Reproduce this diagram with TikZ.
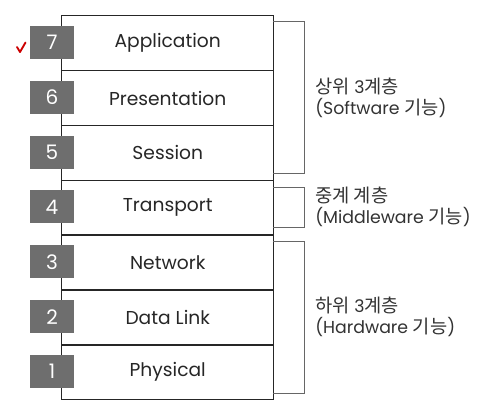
\documentclass[tikz,border=0pt]{standalone}
\usepackage{fontspec}
\setmainfont{Poppins}
\newfontfamily\kr[Scale=1.08]{Noto Sans CJK KR}
\begin{document}
\begin{tikzpicture}[x=0.75pt,y=-0.75pt,
  layer/.style={draw=black!85,line width=1.1pt,minimum width=212*0.75pt,minimum height=54.9*0.75pt,inner sep=0pt,anchor=north west,font=\fontsize{14}{16}\selectfont,text=black!85},
  numbox/.style={fill=black!57,minimum width=44*0.75pt,minimum height=33*0.75pt,inner sep=0pt,text=white,font=\fontsize{15}{16}\selectfont},
  brk/.style={draw=black!60,line width=0.7pt},
  lbl/.style={anchor=west,align=left,font=\fontsize{13}{15.5}\selectfont,text=black!80,inner sep=0pt}]
\useasboundingbox (0,0) rectangle (488,408);
\fill[white] (0,0) rectangle (488,408);
\foreach \n/\t [count=\i from 0] in {7/Application,6/Presentation,5/Session,4/Transport,3/Network,2/Data Link,1/Physical}{
  \node[layer] (L\n) at (61,15+54.85*\i) {\raisebox{-1.2pt}{\t}};
  \node[numbox] (N\n) at (52,15+54.85*\i+27.4) {\n};
}
\draw[red!80!black,line width=1.4pt,line cap=round,line join=round] (17,47) -- (20,52) -- (25.5,42.5);
\coordinate (a1) at (273,21); \coordinate (a2) at (304,21); \coordinate (a3) at (304,173); \coordinate (a4) at (273,173);
\draw[brk] (a1) -- (a2) -- (a3) -- (a4);
\coordinate (b1) at (273,187); \coordinate (b2) at (304,187); \coordinate (b3) at (304,227); \coordinate (b4) at (273,227);
\draw[brk] (b1) -- (b2) -- (b3) -- (b4);
\coordinate (c1) at (273,241); \coordinate (c2) at (304,241); \coordinate (c3) at (304,393); \coordinate (c4) at (273,393);
\draw[brk] (c1) -- (c2) -- (c3) -- (c4);
\node[lbl] (t1) at (315,98) {{\kr 상위} 3{\kr 계층}\\(Software {\kr 기능})};
\node[lbl] (t2) at (315,207) {{\kr 중계 계층}\\(Middleware {\kr 기능})};
\node[lbl] (t3) at (315,317) {{\kr 하위} 3{\kr 계층}\\(Hardware {\kr 기능})};
\end{tikzpicture}
\end{document}
